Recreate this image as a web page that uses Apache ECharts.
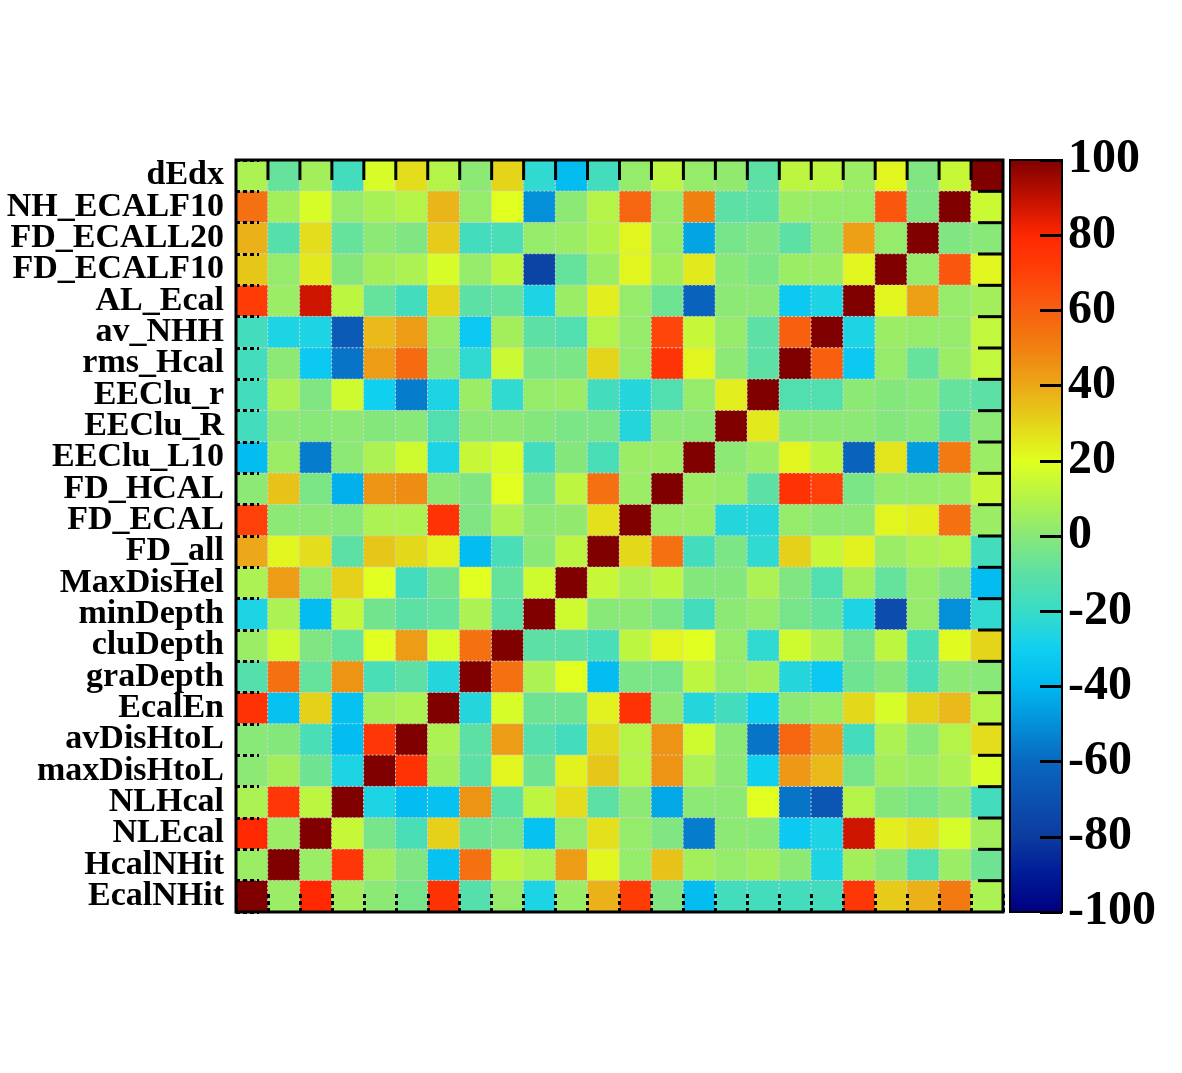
<!DOCTYPE html>
<html>
<head>
<meta charset="utf-8">
<script src="https://cdn.jsdelivr.net/npm/echarts@6/dist/echarts.min.js"></script>
<style>
  html, body { margin: 0; background: #fff; }
  #chart { width: 1182px; height: 1073px; }
</style>
</head>
<body>
<div id="chart"></div>
<script>
// variable names, top row first (columns run in the reverse order)
const rowLabels = ['dEdx', 'NH_ECALF10', 'FD_ECALL20', 'FD_ECALF10', 'AL_Ecal', 'av_NHH',
  'rms_Hcal', 'EEClu_r', 'EEClu_R', 'EEClu_L10', 'FD_HCAL', 'FD_ECAL', 'FD_all',
  'MaxDisHel', 'minDepth', 'cluDepth', 'graDepth', 'EcalEn', 'avDisHtoL', 'maxDisHtoL',
  'NLHcal', 'NLEcal', 'HcalNHit', 'EcalNHit'];

// correlation coefficients in %, one array per row (top to bottom), left to right
const corr = [
  [8, -8, 6, -17, 18, 28, 10, 1, 30, -22, -38, -17, 3, 12, 3, 2, -10, 12, 12, 4, 22, -2, 14, 100],
  [55, 6, 18, 3, 7, 10, 37, 3, 20, -50, 1, 10, 58, 3, 50, -10, -10, 4, 3, 3, 63, -2, 100, 15],
  [38, -12, 28, -8, 1, -2, 32, -17, -15, 3, 4, 9, 22, 3, -45, -4, -2, -10, 1, 42, 3, 100, -2, 0],
  [33, 3, 25, -1, 6, 8, 18, 3, 12, -76, -8, 4, 22, 6, 25, 0, -3, 4, 4, 22, 100, 3, 63, 22],
  [72, 4, 88, 12, -8, -17, 30, -10, -8, -27, 4, 24, 3, -6, -62, 1, 1, -33, -27, 100, 22, 42, 3, 6],
  [-17, -27, -27, -66, 36, 43, 3, -33, 6, -10, -13, 10, 3, 68, 14, 3, -10, 60, 100, -27, 4, 3, 3, 13],
  [-17, 1, -33, -57, 43, 57, 1, -22, 15, -3, -3, 30, 3, 75, 22, 1, -10, 100, 60, -33, 3, -8, 4, 13],
  [-17, 8, -2, 16, -30, -55, -27, 4, -22, 3, 4, -17, -25, -13, 3, 24, 100, -13, -13, 1, -1, 0, -8, -10],
  [-17, 1, 0, 1, -1, 0, -13, 1, 1, -1, -3, -3, -25, 1, 1, 100, 25, 1, 1, 1, -1, 0, -10, 1],
  [-38, 4, -55, 1, 8, 16, -27, 14, 18, -17, -1, -15, 4, 4, 100, 1, 4, 22, 12, -62, 26, -47, 52, 4],
  [1, 34, -3, -42, 45, 47, 1, -2, 20, -3, 12, 55, 4, 100, 4, 3, -10, 76, 70, -3, 3, 3, 4, 14],
  [70, 1, 1, 0, 8, 8, 76, -2, 8, 1, 2, 27, 100, 4, 4, -25, -25, 3, 1, 1, 22, 24, 55, 4],
  [40, 22, 28, -10, 33, 29, 23, -38, -15, 0, 12, 100, 29, 55, -17, -3, -22, 31, 14, 23, 4, 8, 10, -17],
  [8, 43, 3, 31, 20, -17, -5, 20, -8, 16, 100, 14, 8, 12, -1, -1, 8, -2, -13, 6, -8, 3, -2, -38],
  [-27, 8, -38, 14, -5, -10, -8, 8, -10, 100, 16, 0, 1, -3, -17, 1, 3, -4, -8, -27, -72, 3, -50, -22],
  [4, 16, -2, -8, 20, 43, 18, 55, 100, -10, -10, -15, 12, 22, 20, 3, -22, 16, 8, -4, 12, -15, 21, 30],
  [-12, 55, -8, 45, -15, -10, -25, 100, 55, 8, 20, -38, -3, -4, 12, 3, 6, -25, -33, -6, -1, -15, 1, 0],
  [76, -36, 31, -36, 6, 8, 100, -25, 18, -6, -6, 23, 76, 1, -25, -17, -30, 1, 3, 29, 18, 31, 36, 10],
  [0, -1, -15, -38, 74, 100, 8, -10, 43, -12, -17, 29, 10, 45, 16, 1, -57, 58, 44, -17, 8, 0, 10, 28],
  [1, 6, -6, -27, 100, 76, 6, -10, 22, -6, 23, 33, 10, 45, 8, 1, -30, 44, 36, -4, 6, 4, 8, 18],
  [8, 74, 12, 100, -27, -38, -36, 45, -10, 12, 28, -10, 1, -44, 1, 1, 20, -57, -68, 10, -1, -4, 1, -17],
  [80, 4, 100, 14, -4, -15, 31, -6, -4, -36, 3, 27, 3, -2, -55, 1, 0, -33, -27, 88, 24, 27, 18, 6],
  [4, 100, 4, 74, 6, -2, -36, 55, 12, 8, 43, 22, 3, 34, 6, 3, 6, 1, -27, 6, 1, -13, 4, -6],
  [100, 4, 80, 6, 1, -4, 76, -12, 3, -27, 4, 38, 72, -2, -38, -17, -17, -17, -17, 74, 32, 38, 52, 8]
];

// colour scale range and label step
const scaleMin = -100;
const scaleMax = 100;
const scaleStep = 20;

// palette from -100 to 100
const palette = ['#000080', '#001a98', '#0c3ca0', '#0c50b0', '#0868c0', '#0490d8', '#00b8f0',
  '#10d0f0', '#38dcc8', '#5ce0a4', '#88e878', '#b4f448', '#e0ff20', '#e4d41a', '#eca818',
  '#f08010', '#f86010', '#ff4008', '#ff2800', '#c01000', '#800000'];

const cats = rowLabels.slice().reverse();   // bottom to top / left to right
const n = rowLabels.length;
const data = [];
corr.forEach((row, r) => {
  row.forEach((v, c) => data.push([c, n - 1 - r, v]));
});

const font = 'Liberation Serif, Times New Roman, serif';
const chart = echarts.init(document.getElementById('chart'));

// ticks on the bottom/left look dashed (grid dots run over them)
const dashedTicks = (len) => ({
  show: true, inside: true, length: len, interval: 0,
  lineStyle: { color: '#000', width: 3, type: [4, 3] }
});

chart.setOption({
  backgroundColor: '#fff',
  animation: false,
  grid: [
    { left: 236, top: 160, width: 767, height: 752, show: true,
      borderColor: '#000', borderWidth: 3, zlevel: 1 },
    { left: 1010, top: 160, width: 52, height: 752, show: true,
      borderColor: '#000', borderWidth: 2, zlevel: 1 }
  ],
  xAxis: [
    { type: 'category', data: cats, gridIndex: 0, position: 'bottom', zlevel: 1,
      axisLine: { show: false }, axisLabel: { show: false }, splitLine: { show: false },
      axisTick: dashedTicks(20) },
    { type: 'value', gridIndex: 1, show: false, min: 0, max: 1 }
  ],
  yAxis: [
    { type: 'category', data: cats, gridIndex: 0, position: 'left', zlevel: 1,
      axisLine: { show: false }, splitLine: { show: false },
      axisTick: dashedTicks(23),
      axisLabel: { interval: 0, margin: 12, color: '#000', fontSize: 34,
        fontWeight: 'bold', fontFamily: font } },
    { type: 'value', gridIndex: 1, position: 'right', min: scaleMin, max: scaleMax,
      interval: scaleStep, zlevel: 1,
      axisLine: { show: false, onZero: false }, splitLine: { show: false },
      axisTick: { show: true, inside: true, length: 22, lineStyle: { color: '#000', width: 3 } },
      axisLabel: { margin: 6, color: '#000', fontSize: 48, fontWeight: 'bold',
        fontFamily: font, showMinLabel: true, showMaxLabel: true } }
  ],
  visualMap: {
    type: 'continuous',
    min: scaleMin,
    max: scaleMax,
    seriesIndex: 0,
    calculable: false,
    hoverLink: false,
    orient: 'vertical',
    left: 1010,
    top: 160,
    itemWidth: 52,
    itemHeight: 752,
    padding: 0,
    inRange: { color: palette }
  },
  series: [{
    type: 'heatmap',
    xAxisIndex: 0,
    yAxisIndex: 0,
    data: data,
    itemStyle: { borderColor: '#d4d4d4', borderWidth: 1, borderType: [2, 2] },
    emphasis: { disabled: true },
    progressive: 0
  }]
});

// solid mirror ticks on the top and right frame, placed from the axis scales
const xs = cats.map((name) => chart.convertToPixel({ xAxisIndex: 0 }, name));
const ys = cats.map((name) => chart.convertToPixel({ yAxisIndex: 0 }, name));
const cellW = xs[1] - xs[0];
const cellH = ys[0] - ys[1];
const frameTop = ys[n - 1] - cellH / 2;
const frameRight = xs[n - 1] + cellW / 2;
const tickStyle = { stroke: '#000', lineWidth: 3 };
const tickLines = [];
for (let i = 1; i < n; i++) {
  const bx = (xs[i - 1] + xs[i]) / 2;
  const by = (ys[i - 1] + ys[i]) / 2;
  tickLines.push({ type: 'line', silent: true, zlevel: 1, z: 50,
    shape: { x1: bx, y1: frameTop, x2: bx, y2: frameTop + 20 }, style: tickStyle });
  tickLines.push({ type: 'line', silent: true, zlevel: 1, z: 50,
    shape: { x1: frameRight - 25, y1: by, x2: frameRight, y2: by }, style: tickStyle });
}
chart.setOption({ graphic: { elements: tickLines } });
</script>
</body>
</html>
